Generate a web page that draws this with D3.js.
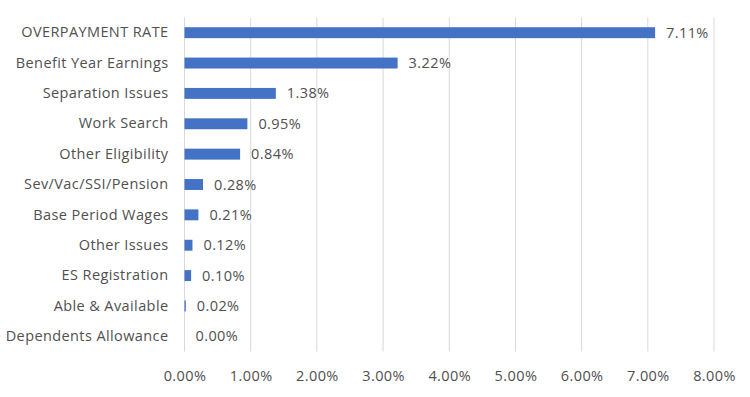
<!DOCTYPE html>
<html>
<head>
<meta charset="utf-8">
<script src="https://cdnjs.cloudflare.com/ajax/libs/d3/7.8.5/d3.min.js"></script>
<style>
  body { margin: 0; background: #fff; }
  text { font-family: "Open Sans", "Liberation Sans", sans-serif; fill: #505050; letter-spacing: 0.4px; }
</style>
</head>
<body>
<div id="chart"></div>
<script>
var categories = ["OVERPAYMENT RATE","Benefit Year Earnings","Separation Issues","Work Search","Other Eligibility","Sev/Vac/SSI/Pension","Base Period Wages","Other Issues","ES Registration","Able & Available","Dependents Allowance"];
var values = [7.11, 3.22, 1.38, 0.95, 0.84, 0.28, 0.21, 0.12, 0.10, 0.02, 0.00];
var tickValues = [0, 1, 2, 3, 4, 5, 6, 7, 8];

var width = 750, height = 397;
var margin = {top: 17.5, right: 36, bottom: 45.5, left: 184.5};

var svg = d3.select("#chart").append("svg")
  .attr("width", width)
  .attr("height", height);

var x = d3.scaleLinear()
  .domain([0, 8])
  .range([margin.left, width - margin.right]);

var y = d3.scaleBand()
  .domain(categories)
  .range([margin.top, height - margin.bottom])
  .paddingInner(0.64)
  .paddingOuter(0.32);

// gridlines
svg.append("g")
  .selectAll("line")
  .data(tickValues)
  .enter()
  .append("line")
  .attr("x1", function(d) { return x(d); })
  .attr("x2", function(d) { return x(d); })
  .attr("y1", margin.top)
  .attr("y2", height - margin.bottom)
  .attr("stroke", "#d9d9d9")
  .attr("stroke-width", 1);

// x axis labels
var xAxis = d3.axisBottom(x)
  .tickValues(tickValues)
  .tickSize(0)
  .tickPadding(0)
  .tickFormat(function(d) { return d3.format(".2f")(d) + "%"; });

var gx = svg.append("g")
  .attr("transform", "translate(0," + (height - margin.bottom + 19) + ")")
  .call(xAxis);
gx.select(".domain").remove();
gx.selectAll("text")
  .attr("font-size", 14.5)
  .attr("font-family", null)
  .attr("dy", "0.71em");

// bars
svg.append("g")
  .selectAll("rect")
  .data(values)
  .enter()
  .append("rect")
  .attr("x", x(0))
  .attr("y", function(d, i) { return y(categories[i]); })
  .attr("width", function(d) { return x(d) - x(0); })
  .attr("height", y.bandwidth())
  .attr("fill", "#4472c4");

// category labels
var yAxis = d3.axisLeft(y).tickSize(0).tickPadding(16);
var gy = svg.append("g")
  .attr("transform", "translate(" + margin.left + ",0)")
  .call(yAxis);
gy.select(".domain").remove();
gy.selectAll("text")
  .attr("font-size", 14.5)
  .attr("font-family", null);

// value labels
svg.append("g")
  .selectAll("text")
  .data(values)
  .enter()
  .append("text")
  .attr("x", function(d) { return x(d) + 11; })
  .attr("y", function(d, i) { return y(categories[i]) + y.bandwidth() / 2; })
  .attr("dy", "0.35em")
  .attr("font-size", 14.5)
  .text(function(d) { return d3.format(".2f")(d) + "%"; });
</script>
</body>
</html>
